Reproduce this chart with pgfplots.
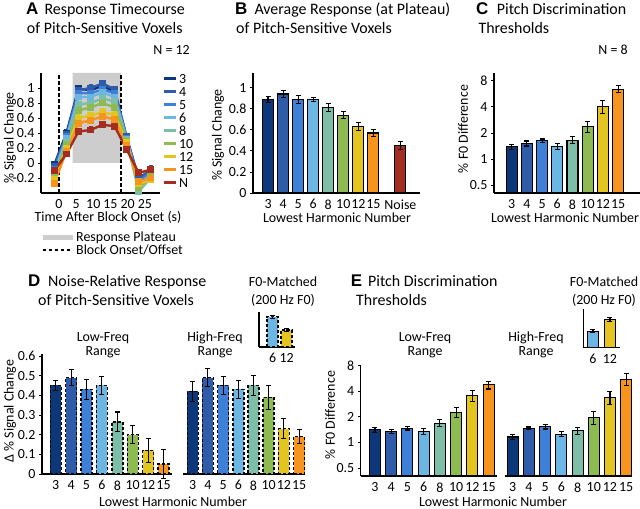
\documentclass[border=0pt]{standalone}
\usepackage{pgfplots}
\pgfplotsset{compat=1.18}
\usepackage{fontspec}
\setmainfont{Carlito}
\newfontfamily\arialb{Liberation Sans}
\definecolor{c3}{RGB}{12,56,122}
\definecolor{c4}{RGB}{47,92,168}
\definecolor{c5}{RGB}{62,128,216}
\definecolor{c6}{RGB}{108,182,228}
\definecolor{c8}{RGB}{124,190,168}
\definecolor{c10}{RGB}{142,186,82}
\definecolor{c12}{RGB}{228,196,30}
\definecolor{c15}{RGB}{247,148,29}
\definecolor{cN}{RGB}{163,45,32}
\definecolor{plat}{RGB}{205,205,205}
\newcommand{\tf}{\fontsize{16}{19}\selectfont}
\newcommand{\lf}{\fontsize{14}{16}\selectfont}
\newcommand{\Lf}{\fontsize{17}{19}\selectfont\arialb\bfseries}
\pgfplotsset{
  base/.style={scale only axis, axis x line*=bottom, axis y line*=left,
    axis line style={line width=1.3bp, black},
    every tick/.style={black, line width=0.8bp},
    major tick length=3bp, tick align=outside,
    xtick style={draw=none},
    ticklabel style={font=\lf},
    /pgf/number format/assume math mode=true,
    clip=false},
  eb/.style={error bars/.cd, y dir=both, y explicit, error mark=-,
     error bar style={black, solid, line width=1.1bp},
     error mark options={black, solid, line width=1.1bp, mark size=2.5bp, rotate=90}},
  hb/.style={ybar, bar width=11bp, bar shift=0pt, fill=#1, draw=black, line width=1.1bp, eb},
  db/.style={ybar, bar width=11bp, bar shift=0pt, fill=#1, draw=black, dash pattern=on 3bp off 2bp, line width=1.4bp, eb},
  tc/.style={#1, line width=2.4bp, mark=square*, mark size=2.2bp, mark options={solid, fill=#1}, forget plot,
     error bars/.cd, y dir=both, y explicit, error mark=-, error bar style={line width=1bp},
     error mark options={line width=1bp, mark size=2bp, rotate=90}},
}
\tikzset{tx/.style={inner sep=0, font=\tf}, lx/.style={inner sep=0, font=\lf}}
\begin{document}
\begin{tikzpicture}
% ---------------- titles -----------------
\node[anchor=base west, inner sep=0, font=\Lf] at (26bp,494bp) {A};
\node[anchor=base west, tx] at (44.3bp,494bp) {Response Timecourse};
\node[anchor=base west, tx] at (26.7bp,475.7bp) {of Pitch-Sensitive Voxels};
\node[anchor=base east, lx] at (190bp,454bp) {N = 12};
\node[anchor=base west, inner sep=0, font=\Lf] at (235bp,494bp) {B};
\node[anchor=base west, tx] at (254.3bp,494bp) {Average Response (at Plateau)};
\node[anchor=base west, tx] at (236bp,475.7bp) {of Pitch-Sensitive Voxels};
\node[anchor=base west, inner sep=0, font=\Lf] at (476bp,494bp) {C};
\node[anchor=base west, tx] at (496.7bp,494bp) {Pitch Discrimination};
\node[anchor=base west, tx] at (478.3bp,475.7bp) {Thresholds};
\node[anchor=base east, lx] at (628bp,454bp) {N = 8};
\node[anchor=base west, inner sep=0, font=\Lf] at (28bp,222bp) {D};
\node[anchor=base west, tx] at (48bp,222bp) {Noise-Relative Response};
\node[anchor=base west, tx] at (38bp,203bp) {of Pitch-Sensitive Voxels};
\node[anchor=base west, inner sep=0, font=\Lf] at (350.7bp,222bp) {E};
\node[anchor=base west, tx] at (368bp,222bp) {Pitch Discrimination};
\node[anchor=base west, tx] at (356bp,203bp) {Thresholds};
% sub titles
\foreach \xx/\tt in {103/Low-Freq, 215/High-Freq, 425/Low-Freq, 536/High-Freq}{
  \node[anchor=base, lx] at (\xx bp,167bp) {\tt};
  \node[anchor=base, lx] at (\xx bp,153bp) {Range};
}
\foreach \xx in {283,604}{
  \node[anchor=base, lx] at (\xx bp,222.3bp) {F0-Matched};
  \node[anchor=base, lx] at (\xx bp,204bp) {(200 Hz F0)};
}
% axis labels
\node[rotate=90, lx] at (10bp,371bp) {\% Signal Change};
\node[rotate=90, lx] at (218bp,374bp) {\% Signal Change};
\node[rotate=90, lx] at (463bp,380bp) {\% F0 Difference};
\node[rotate=90, lx] at (10bp,98bp) {Δ \% Signal Change};
\node[rotate=90, lx] at (330bp,94bp) {\% F0 Difference};
\node[anchor=base, lx] at (108bp,287.3bp) {Time After Block Onset (s)};
\node[anchor=base, lx] at (337bp,286.5bp) {Lowest Harmonic Number};
\node[anchor=base, lx] at (565bp,286.5bp) {Lowest Harmonic Number};
\node[anchor=base, lx] at (173bp,2.3bp) {Lowest Harmonic Number};
\node[anchor=base, lx] at (493bp,2.3bp) {Lowest Harmonic Number};

% ---------------- A -----------------
\begin{axis}[base, at={(41bp,316bp)}, anchor=south west, width=119bp, height=120bp,
  xmin=-5.2, xmax=29.4, ymin=-0.4, ymax=1.2,
  xtick={0,5,10,15,20,25}, ytick={-0.2,0,0.2,0.4,0.6,0.8,1},
  legend style={at={(1.02,1)}, anchor=north west, draw=none, fill=none, inner sep=0pt,
     font=\lf, row sep=2bp, nodes={inner sep=1bp, text height=9bp, text depth=0bp}},
  legend image code/.code={\draw[#1] (0bp,0bp) -- (12bp,0bp);},
  legend cell align=left]
\addplot[fill=plat, draw=none, forget plot] coordinates {(4,-0.4) (4,1.2) (18,1.2) (18,-0.4)} \closedcycle;
\addplot[black, line width=1.5bp, dash pattern=on 3.5bp off 2.5bp, forget plot] coordinates {(0,-0.4) (0,1.2)};
\addplot[black, line width=1.5bp, dash pattern=on 3.5bp off 2.5bp, forget plot] coordinates {(18,-0.4) (18,1.2)};
\addplot[tc=c3] coordinates {(-1.3,-0.02)+-(0,0.04) (2.2,0.40)+-(0,0.04) (5.7,0.99)+-(0,0.04) (9.2,0.97)+-(0,0.04) (12.7,1.03)+-(0,0.04) (16.2,0.95)+-(0,0.04) (19.7,0.33)+-(0,0.04) (23.2,-0.20)+-(0,0.04) (26.7,-0.10)+-(0,0.04)};
\addplot[tc=c4] coordinates {(-1.3,-0.05)+-(0,0.04) (2.2,0.38)+-(0,0.04) (5.7,0.97)+-(0,0.04) (9.2,1.00)+-(0,0.04) (12.7,1.06)+-(0,0.04) (16.2,0.98)+-(0,0.04) (19.7,0.35)+-(0,0.04) (23.2,-0.22)+-(0,0.04) (26.7,-0.08)+-(0,0.04)};
\addplot[tc=c5] coordinates {(-1.3,-0.08)+-(0,0.04) (2.2,0.35)+-(0,0.04) (5.7,0.93)+-(0,0.04) (9.2,0.93)+-(0,0.04) (12.7,0.98)+-(0,0.04) (16.2,0.93)+-(0,0.04) (19.7,0.33)+-(0,0.04) (23.2,-0.25)+-(0,0.04) (26.7,-0.12)+-(0,0.04)};
\addplot[tc=c6] coordinates {(-1.3,-0.12)+-(0,0.04) (2.2,0.33)+-(0,0.04) (5.7,0.88)+-(0,0.04) (9.2,0.88)+-(0,0.04) (12.7,0.94)+-(0,0.04) (16.2,0.88)+-(0,0.04) (19.7,0.32)+-(0,0.04) (23.2,-0.30)+-(0,0.04) (26.7,-0.15)+-(0,0.04)};
\addplot[tc=c8] coordinates {(-1.3,-0.15)+-(0,0.04) (2.2,0.28)+-(0,0.04) (5.7,0.78)+-(0,0.04) (9.2,0.80)+-(0,0.04) (12.7,0.86)+-(0,0.04) (16.2,0.82)+-(0,0.04) (19.7,0.30)+-(0,0.04) (23.2,-0.38)+-(0,0.04) (26.7,-0.20)+-(0,0.04)};
\addplot[tc=c10] coordinates {(-1.3,-0.18)+-(0,0.04) (2.2,0.25)+-(0,0.04) (5.7,0.70)+-(0,0.04) (9.2,0.74)+-(0,0.04) (12.7,0.80)+-(0,0.04) (16.2,0.74)+-(0,0.04) (19.7,0.30)+-(0,0.04) (23.2,-0.33)+-(0,0.04) (26.7,-0.18)+-(0,0.04)};
\addplot[tc=c12] coordinates {(-1.3,-0.22)+-(0,0.04) (2.2,0.20)+-(0,0.04) (5.7,0.60)+-(0,0.04) (9.2,0.63)+-(0,0.04) (12.7,0.68)+-(0,0.04) (16.2,0.64)+-(0,0.04) (19.7,0.27)+-(0,0.04) (23.2,-0.28)+-(0,0.04) (26.7,-0.22)+-(0,0.04)};
\addplot[tc=c15] coordinates {(-1.3,-0.27)+-(0,0.04) (2.2,0.16)+-(0,0.04) (5.7,0.53)+-(0,0.04) (9.2,0.57)+-(0,0.04) (12.7,0.62)+-(0,0.04) (16.2,0.58)+-(0,0.04) (19.7,0.24)+-(0,0.04) (23.2,-0.25)+-(0,0.04) (26.7,-0.20)+-(0,0.04)};
\addplot[tc=cN] coordinates {(-1.3,-0.10)+-(0,0.04) (2.2,0.12)+-(0,0.04) (5.7,0.42)+-(0,0.04) (9.2,0.44)+-(0,0.04) (12.7,0.51)+-(0,0.04) (16.2,0.49)+-(0,0.04) (19.7,0.18)+-(0,0.04) (23.2,-0.13)+-(0,0.04) (26.7,-0.09)+-(0,0.04)};
\addlegendimage{c3, line width=3.5bp}\addlegendentry{3}
\addlegendimage{c4, line width=3.5bp}\addlegendentry{4}
\addlegendimage{c5, line width=3.5bp}\addlegendentry{5}
\addlegendimage{c6, line width=3.5bp}\addlegendentry{6}
\addlegendimage{c8, line width=3.5bp}\addlegendentry{8}
\addlegendimage{c10, line width=3.5bp}\addlegendentry{10}
\addlegendimage{c12, line width=3.5bp}\addlegendentry{12}
\addlegendimage{c15, line width=3.5bp}\addlegendentry{15}
\addlegendimage{cN, line width=3.5bp}\addlegendentry{N}
\end{axis}
% extra legend for A
\begin{axis}[scale only axis, hide axis, at={(40bp,277.5bp)}, anchor=north west, width=10bp, height=10bp,
  xmin=0, xmax=1, ymin=0, ymax=1,
  legend style={at={(0,1)}, anchor=north west, draw=none, fill=none, inner sep=0pt,
     font=\lf, row sep=2bp, nodes={inner sep=1bp, text height=9bp, text depth=0bp}},
  legend image code/.code={\draw[#1] (0bp,0bp) -- (30bp,0bp);},
  legend cell align=left]
\addlegendimage{plat, line width=5bp}\addlegendentry{Response Plateau}
\addlegendimage{black, line width=1.5bp, dash pattern=on 3.5bp off 2.5bp}\addlegendentry{Block Onset/Offset}
\end{axis}

% ---------------- B -----------------
\begin{axis}[base, at={(253bp,316bp)}, anchor=south west, width=167bp, height=120bp,
  xmin=-1, xmax=10.1, ymin=0, ymax=1.14,
  xtick={0,1,2,3,4,5,6,7,8.8}, xticklabels={3,4,5,6,8,10,12,15,Noise},
  ytick={0,0.2,0.4,0.6,0.8,1}]
\addplot[hb=c3] coordinates {(0,0.89)+-(0,0.03)};
\addplot[hb=c4] coordinates {(1,0.94)+-(0,0.03)};
\addplot[hb=c5] coordinates {(2,0.89)+-(0,0.04)};
\addplot[hb=c6] coordinates {(3,0.89)+-(0,0.02)};
\addplot[hb=c8] coordinates {(4,0.81)+-(0,0.04)};
\addplot[hb=c10] coordinates {(5,0.74)+-(0,0.03)};
\addplot[hb=c12] coordinates {(6,0.63)+-(0,0.04)};
\addplot[hb=c15] coordinates {(7,0.57)+-(0,0.035)};
\addplot[hb=cN] coordinates {(8.8,0.45)+-(0,0.04)};
\end{axis}

% ---------------- C -----------------
\begin{axis}[base, at={(494bp,316bp)}, anchor=south west, width=146bp, height=120bp,
  ymode=log, log origin y=infty, yminorticks=false,
  xmin=-1.16, xmax=8.44, ymin=0.41, ymax=9.8,
  xtick={0,...,7}, xticklabels={3,4,5,6,8,10,12,15},
  ytick={0.5,1,2,4,8}, yticklabels={0.5,1,2,4,8}]
\addplot[hb=c3] coordinates {(0,1.39)+-(0,0.08)};
\addplot[hb=c4] coordinates {(1,1.52)+-(0,0.1)};
\addplot[hb=c5] coordinates {(2,1.63)+-(0,0.08)};
\addplot[hb=c6] coordinates {(3,1.41)+-(0,0.1)};
\addplot[hb=c8] coordinates {(4,1.66)+-(0,0.15)};
\addplot[hb=c10] coordinates {(5,2.37)+-(0,0.35)};
\addplot[hb=c12] coordinates {(6,4.03)+-(0,0.7)};
\addplot[hb=c15] coordinates {(7,6.4)+-(0,0.6)};
\end{axis}

% ---------------- D -----------------
\begin{axis}[base, at={(42bp,35bp)}, anchor=south west, width=129.7bp, height=120bp,
  xmin=-0.89, xmax=7.53, ymin=0, ymax=0.61,
  xtick={0,...,7}, xticklabels={3,4,5,6,8,10,12,15},
  ytick={0,0.1,0.2,0.3,0.4,0.5,0.6}]
\addplot[db=c3] coordinates {(0,0.45)+-(0,0.025)};
\addplot[db=c4] coordinates {(1,0.49)+-(0,0.04)};
\addplot[db=c5] coordinates {(2,0.43)+-(0,0.05)};
\addplot[db=c6] coordinates {(3,0.45)+-(0,0.045)};
\addplot[db=c8] coordinates {(4,0.265)+-(0,0.05)};
\addplot[db=c10] coordinates {(5,0.20)+-(0,0.045)};
\addplot[db=c12] coordinates {(6,0.12)+-(0,0.06)};
\addplot[db=c15] coordinates {(7,0.05)+-(0,0.075)};
\end{axis}
\begin{axis}[base, hide y axis, at={(183bp,35bp)}, anchor=south west, width=122bp, height=120bp,
  xmin=-0.64, xmax=7.39, ymin=0, ymax=0.61,
  xtick={0,...,7}, xticklabels={3,4,5,6,8,10,12,15}]
\addplot[db=c3] coordinates {(0,0.42)+-(0,0.05)};
\addplot[db=c4] coordinates {(1,0.49)+-(0,0.045)};
\addplot[db=c5] coordinates {(2,0.45)+-(0,0.045)};
\addplot[db=c6] coordinates {(3,0.43)+-(0,0.045)};
\addplot[db=c8] coordinates {(4,0.45)+-(0,0.05)};
\addplot[db=c10] coordinates {(5,0.39)+-(0,0.06)};
\addplot[db=c12] coordinates {(6,0.23)+-(0,0.05)};
\addplot[db=c15] coordinates {(7,0.19)+-(0,0.035)};
\end{axis}
\begin{axis}[base, at={(259bp,162bp)}, anchor=south west, width=36bp, height=35bp,
  xmin=-0.98, xmax=1.6, ymin=0, ymax=0.52, ytick=\empty,
  xtick={0,1}, xticklabels={6,12}]
\addplot[db=c6] coordinates {(0,0.45)+-(0,0.02)};
\addplot[db=c12] coordinates {(1,0.25)+-(0,0.025)};
\end{axis}

% ---------------- E -----------------
\begin{axis}[base, at={(360.7bp,33bp)}, anchor=south west, width=136bp, height=111bp,
  ymode=log, log origin y=infty, yminorticks=false,
  xmin=-0.88, xmax=7.5, ymin=0.405, ymax=8.1,
  xtick={0,...,7}, xticklabels={3,4,5,6,8,10,12,15},
  ytick={0.5,1,2,4,8}, yticklabels={0.5,1,2,4,8}]
\addplot[hb=c3] coordinates {(0,1.41)+-(0,0.1)};
\addplot[hb=c4] coordinates {(1,1.35)+-(0,0.08)};
\addplot[hb=c5] coordinates {(2,1.47)+-(0,0.07)};
\addplot[hb=c6] coordinates {(3,1.35)+-(0,0.12)};
\addplot[hb=c8] coordinates {(4,1.69)+-(0,0.15)};
\addplot[hb=c10] coordinates {(5,2.25)+-(0,0.3)};
\addplot[hb=c12] coordinates {(6,3.55)+-(0,0.5)};
\addplot[hb=c15] coordinates {(7,4.74)+-(0,0.5)};
\end{axis}
\begin{axis}[base, hide y axis, at={(505bp,33bp)}, anchor=south west, width=126.7bp, height=111bp,
  ymode=log, log origin y=infty, yminorticks=false,
  xmin=-0.48, xmax=7.34, ymin=0.405, ymax=8.1,
  xtick={0,...,7}, xticklabels={3,4,5,6,8,10,12,15}]
\addplot[hb=c3] coordinates {(0,1.16)+-(0,0.07)};
\addplot[hb=c4] coordinates {(1,1.47)+-(0,0.05)};
\addplot[hb=c5] coordinates {(2,1.54)+-(0,0.1)};
\addplot[hb=c6] coordinates {(3,1.25)+-(0,0.08)};
\addplot[hb=c8] coordinates {(4,1.37)+-(0,0.12)};
\addplot[hb=c10] coordinates {(5,1.98)+-(0,0.35)};
\addplot[hb=c12] coordinates {(6,3.36)+-(0,0.6)};
\addplot[hb=c15] coordinates {(7,5.53)+-(0,0.9)};
\end{axis}
\begin{axis}[base, at={(583.3bp,161.3bp)}, anchor=south west, width=36.7bp, height=38.7bp,
  xmin=-0.57, xmax=1.59, ymin=0, ymax=1, ytick=\empty,
  xtick={0,1}, xticklabels={6,12}]
\addplot[hb=c6] coordinates {(0,0.43)+-(0,0.03)};
\addplot[hb=c12] coordinates {(1,0.73)+-(0,0.05)};
\end{axis}
\pgfresetboundingbox
\useasboundingbox (0bp,0bp) rectangle (640bp,509bp);
\end{tikzpicture}
\end{document}
